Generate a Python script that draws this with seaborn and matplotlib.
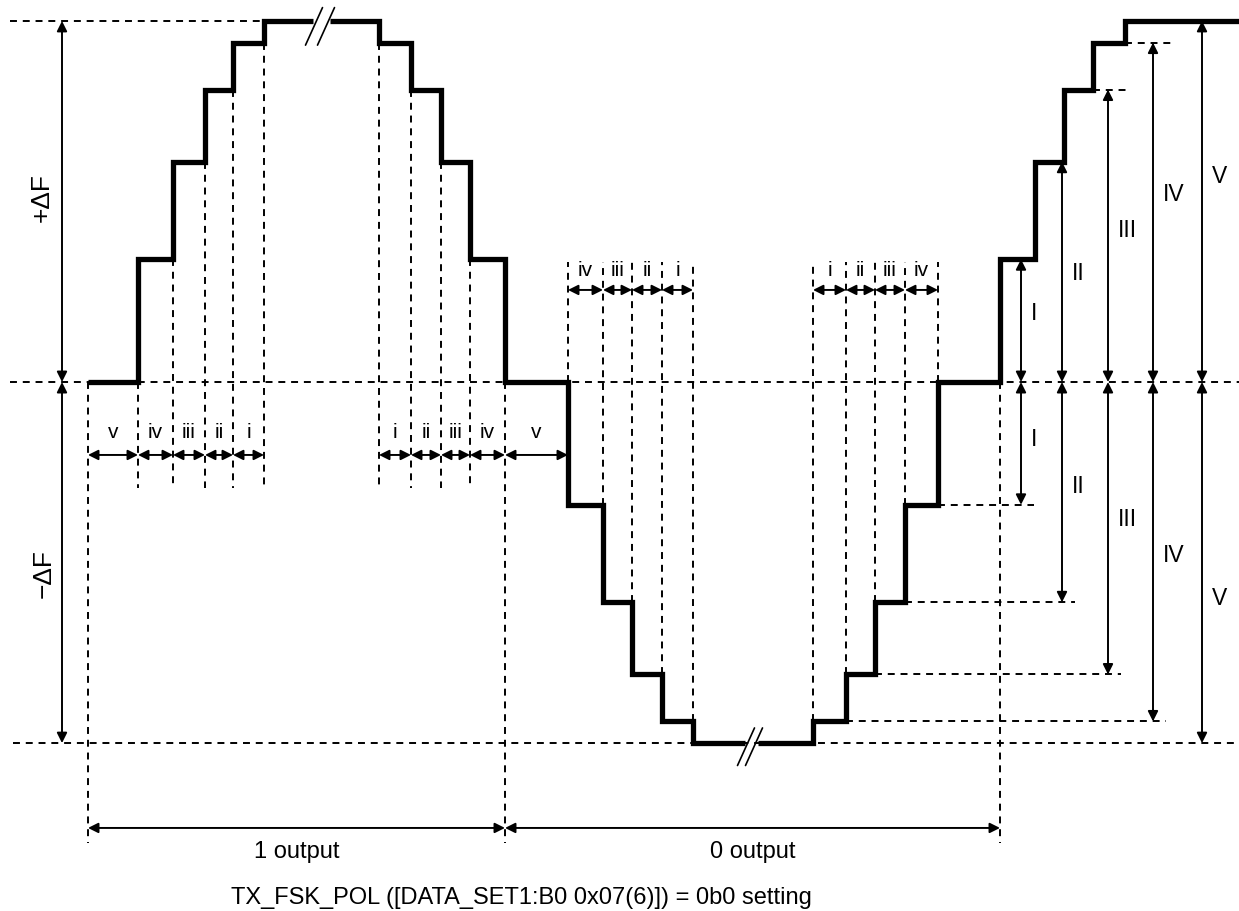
"""
FSK frequency staircase diagram (TX_FSK_POL = 0b0)
"""

import numpy as np
import pandas as pd
import matplotlib

matplotlib.use("Agg")
import matplotlib.pyplot as plt
import seaborn as sns

# step edges (time, arbitrary units) and the frequency level after each edge (in dF)
step_t = [88, 138, 173, 205, 233, 264, 379, 411, 441, 470, 505,
          568, 603, 632, 662, 693, 813, 846, 875, 905, 938,
          1000, 1035, 1064, 1093, 1125]
step_level = [0.0, 0.34, 0.61, 0.81, 0.94, 1.0, 0.94, 0.81, 0.61, 0.34, 0.0,
              -0.34, -0.61, -0.81, -0.94, -1.0, -0.94, -0.81, -0.61, -0.34, 0.0,
              0.34, 0.61, 0.81, 0.94, 1.0]
t_end = 1239
breaks = [(313, 330), (745, 758)]

# bit boundaries
bit_t = [88, 505, 1000]
bit_labels = ["1 output", "0 output"]

# deviation steps
dev_labels = ["I", "II", "III", "IV", "V"]
dev_levels = [0.34, 0.61, 0.81, 0.94, 1.0]
interval_labels = ["i", "ii", "iii", "iv", "v"]

title = "TX_FSK_POL ([DATA_SET1:B0 0x07(6)]) = 0b0 setting"

# layout
dev_arrow_x = [1021, 1062, 1108, 1153, 1202]
dev_up_label_y = [0.19, 0.30, 0.42, 0.52, 0.57]
dev_dn_label_y = [-0.16, -0.29, -0.38, -0.48, -0.60]
guide_low = -0.294
guide_high = 0.332
bit_guide_low = -1.277

sns.set_theme(style="white")
plt.rcParams["font.family"] = ["Liberation Sans", "DejaVu Sans"]
plt.rcParams["text.color"] = "black"
plt.rcParams["lines.scale_dashes"] = False

fig = plt.figure(figsize=(12.39, 9.11), dpi=100)
ax = fig.add_axes([0, 0, 1, 1])

DASH = dict(color="black", lw=1.4, dashes=(5, 4.2))


def dashed(xs, ys):
    ax.plot(xs, ys, **DASH)


def arrow(p0, p1, scale=15):
    ax.annotate(
        "", xy=p1, xytext=p0,
        arrowprops=dict(arrowstyle="<|-|>", color="black", lw=1.4,
                        mutation_scale=scale, shrinkA=0, shrinkB=0),
    )


def slashes(x0, x1, y):
    for xc in (x0 + 1, x1 - 4):
        ax.plot([xc - 8.5, xc + 8.5], [y - 0.052, y + 0.052], color="black", lw=1.2)


# reference levels
dashed([10, step_t[5]], [1, 1])
dashed([10, t_end], [0, 0])
dashed([13, t_end], [-1, -1])

# guides under the upper steps
for i in list(range(1, 6)) + list(range(6, 10)):
    lo = min(step_level[i - 1], step_level[i])
    dashed([step_t[i], step_t[i]], [lo, guide_low])

# guides above the lower steps
for i in list(range(11, 16)) + list(range(16, 21)):
    hi = max(step_level[i - 1], step_level[i])
    dashed([step_t[i], step_t[i]], [hi, guide_high])

for t in bit_t:
    dashed([t, t], [0, bit_guide_low])

# short guides to the right-hand deviation arrows
last_rise = step_t[21:] + [t_end]
for k, lv in enumerate(dev_levels[:4]):
    end_t = last_rise[k + 1]
    if end_t < dev_arrow_x[k]:
        dashed([end_t, dev_arrow_x[k] + 18], [lv, lv])
low_rise = step_t[16:21]
for k, lv in enumerate(dev_levels[:4]):
    start_t = low_rise[::-1][k]
    dashed([start_t, dev_arrow_x[k] + 13], [-lv, -lv])

# staircase, split at the breaks
edges = step_t + [t_end]
rows = []
seg = 0
for i, lv in enumerate(step_level):
    a, b = edges[i], edges[i + 1]
    rows.append((seg, a, lv))
    for g0, g1 in breaks:
        if a < g0 < b:
            rows.append((seg, g0, lv))
            seg += 1
            rows.append((seg, g1, lv))
    rows.append((seg, b, lv))
df = pd.DataFrame(rows, columns=["seg", "t", "f"])
sns.lineplot(data=df, x="t", y="f", units="seg", estimator=None, sort=False,
             color="black", lw=3.8, legend=False, ax=ax,
             solid_joinstyle="miter", solid_capstyle="butt")
ax.set_xlim(0, 1239)
ax.set_ylim(-1.465, 1.058)
ax.axis("off")

slashes(breaks[0][0], breaks[0][1], 0.985)
slashes(breaks[1][0], breaks[1][1], -1.01)

# interval arrows (upper half)
row_y, lab_y = -0.202, -0.139
left = step_t[0:6]
for k in range(5):
    arrow((left[k], row_y), (left[k + 1], row_y))
    ax.text((left[k] + left[k + 1]) / 2, lab_y, interval_labels[4 - k],
            ha="center", va="center", fontsize=15)
right = step_t[6:12]
for k in range(5):
    arrow((right[k], row_y), (right[k + 1], row_y))
    ax.text((right[k] + right[k + 1]) / 2, lab_y, interval_labels[k],
            ha="center", va="center", fontsize=15)

# interval arrows (lower half)
row_y, lab_y = 0.255, 0.31
left = step_t[11:16]
for k in range(4):
    arrow((left[k], row_y), (left[k + 1], row_y))
    ax.text((left[k] + left[k + 1]) / 2, lab_y, interval_labels[3 - k],
            ha="center", va="center", fontsize=15)
right = step_t[16:21]
for k in range(4):
    arrow((right[k], row_y), (right[k + 1], row_y))
    ax.text((right[k] + right[k + 1]) / 2, lab_y, interval_labels[k],
            ha="center", va="center", fontsize=15)

# deviation arrows on the right
for k, lv in enumerate(dev_levels):
    x = dev_arrow_x[k]
    arrow((x, 0), (x, lv))
    arrow((x, 0), (x, -lv))
    ax.text(x + 10, dev_up_label_y[k], dev_labels[k], ha="left", va="center", fontsize=16.5)
    ax.text(x + 10, dev_dn_label_y[k], dev_labels[k], ha="left", va="center", fontsize=16.5)

# full deviation on the left
arrow((62, 0), (62, 1))
arrow((62, 0), (62, -1))
ax.text(42, 0.51, "+\u0394F", rotation=90, ha="center", va="center", fontsize=19)
ax.text(44, -0.53, "\u2212\u0394F", rotation=90, ha="center", va="center", fontsize=19)

# bit periods
for k in range(2):
    arrow((bit_t[k], -1.235), (bit_t[k + 1], -1.235))
    ax.text((bit_t[k] + bit_t[k + 1]) / 2, -1.302, bit_labels[k],
            ha="center", va="center", fontsize=17)

ax.text(521, -1.429, title, ha="center", va="center", fontsize=17)

fig.savefig("out.png", dpi=100)
